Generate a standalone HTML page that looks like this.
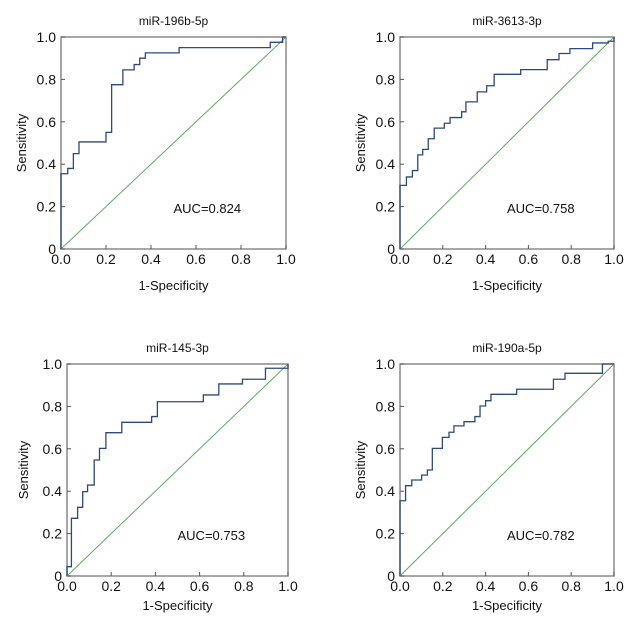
<!DOCTYPE html>
<html><head><meta charset="utf-8"><style>
body{margin:0;background:#fff;width:637px;height:618px;overflow:hidden}
svg{display:block;font-family:"Liberation Sans",sans-serif}
</style></head><body>
<svg id="c" width="637" height="618"></svg>
<script>
const titles=["miR-196b-5p","miR-3613-3p","miR-145-3p","miR-190a-5p"];
const aucLabels=["AUC=0.824","AUC=0.758","AUC=0.753","AUC=0.782"];
const tickLabels=["0","0.2","0.4","0.6","0.8","1.0"];
const xTickLabels=["0.0","0.2","0.4","0.6","0.8","1.0"];
const tickValues=[0,0.2,0.4,0.6,0.8,1.0];
const fpr1=[0,0.03,0.055,0.08,0.2,0.225,0.275,0.325,0.35,0.375,0.525,0.93,0.985,1];
const tpr1=[0.355,0.38,0.45,0.505,0.55,0.775,0.845,0.87,0.90,0.925,0.95,0.975,1.0,1.0];
const fpr2=[0,0.03,0.058,0.083,0.106,0.132,0.16,0.207,0.234,0.288,0.308,0.361,0.405,0.44,0.564,0.688,0.743,0.794,0.9,0.973,1];
const tpr2=[0.30,0.34,0.37,0.444,0.47,0.52,0.57,0.593,0.62,0.647,0.694,0.741,0.77,0.824,0.846,0.893,0.922,0.945,0.972,0.98,1];
const fpr3=[0,0.02,0.048,0.071,0.093,0.123,0.147,0.176,0.248,0.383,0.409,0.617,0.687,0.794,0.898,1];
const tpr3=[0.044,0.272,0.324,0.398,0.429,0.547,0.602,0.676,0.725,0.752,0.822,0.854,0.906,0.928,0.98,1];
const fpr4=[0,0.026,0.055,0.101,0.128,0.151,0.198,0.229,0.252,0.299,0.35,0.374,0.4,0.425,0.545,0.717,0.771,0.946,1];
const tpr4=[0.355,0.426,0.453,0.476,0.5,0.602,0.654,0.678,0.708,0.728,0.752,0.802,0.827,0.857,0.881,0.928,0.956,1.0,1.0];
const fprs=[fpr1,fpr2,fpr3,fpr4], tprs=[tpr1,tpr2,tpr3,tpr4];
const frames=[{l:61,r:286,t:37,b:249,ly:22,xl:290},{l:400,r:614,t:37,b:249,ly:361,xl:290},{l:67,r:288,t:364,b:576,ly:24,xl:610},{l:400,r:614,t:364,b:576,ly:361,xl:610}];
const NS="http://www.w3.org/2000/svg", svg=document.getElementById('c');
function mk(tag,attrs,parent){const e=document.createElementNS(NS,tag);for(const k in attrs)e.setAttribute(k,attrs[k]);(parent||svg).appendChild(e);return e;}
frames.forEach((f,i)=>{
  const g=mk('g',{});
  
  
  const X=v=>f.l+v*(f.r-f.l), Y=v=>f.b-v*(f.b-f.t);
  const fr=mk('rect',{x:f.l,y:f.t,width:f.r-f.l,height:f.b-f.t,fill:'none',stroke:'#8a8a8a','stroke-width':1.5},g);
  
  
  tickValues.forEach((v,j)=>{
    mk('line',{x1:X(v),x2:X(v),y1:f.b,y2:f.b-4,stroke:'#555'},g);
    mk('line',{x1:f.l,x2:f.l+4,y1:Y(v),y2:Y(v),stroke:'#555'},g);
    const yt=mk('text',{x:f.l-5,y:Y(v)+5,'text-anchor':'end','font-size':14,fill:'#111'},g);yt.textContent=tickLabels[j];
    
    
    const xt=mk('text',{x:X(v),y:f.b+15,'text-anchor':'middle','font-size':14,fill:'#111'},g);xt.textContent=xTickLabels[j];
    
    
  });
  const dg=mk('line',{x1:X(0),y1:Y(0),x2:X(1),y2:Y(1),stroke:'#5cab5c','stroke-width':1},g);
  
  
  const fp=fprs[i],tp=tprs[i];
  let d='M'+X(0)+','+Y(0)+' V'+Y(tp[0]);
  for(let k=1;k<fp.length;k++){d+=' H'+X(fp[k])+' V'+Y(tp[k]);}
  const p=mk('path',{d:d,fill:'none',stroke:'#2c4a7c','stroke-width':1.3},g);
  
  
  const cx=(f.l+f.r)/2;
  const tt=mk('text',{x:cx,y:f.t-12,'text-anchor':'middle','font-size':12,fill:'#111'},g);tt.textContent=titles[i];
  
  
  const at=mk('text',{x:X(0.5),y:Y(0.17),'font-size':13,fill:'#111'},g);at.textContent=aucLabels[i];
  
  
  const xa=mk('text',{x:cx,y:f.xl,'text-anchor':'middle','font-size':13,fill:'#111'},g);xa.textContent='1-Specificity';
  
  
  const ym=(f.t+f.b)/2;
  const ya=mk('text',{x:f.ly+4,y:ym,'text-anchor':'middle','font-size':13,fill:'#111',transform:'rotate(-90 '+(f.ly+4)+' '+ym+')'},g);ya.textContent='Sensitivity';
  
  
});
</script>
</body></html>
